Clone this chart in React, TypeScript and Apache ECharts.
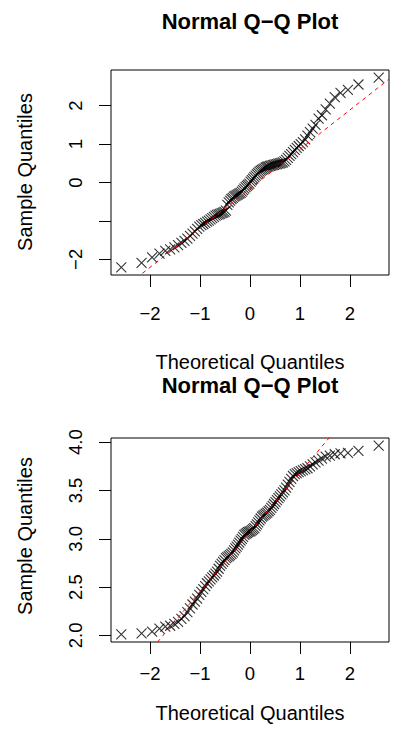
import React, { useEffect, useRef } from "react";
import * as echarts from "echarts";

// Theoretical normal quantiles for n = 100 (ppoints)
const theoretical = [
  -2.5758, -2.1701, -1.96, -1.8119, -1.6954, -1.5982, -1.5141, -1.4395, -1.3722, -1.3106,
  -1.2536, -1.2004, -1.1503, -1.1031, -1.0581, -1.0152, -0.9741, -0.9346, -0.8965, -0.8596,
  -0.8239, -0.7892, -0.7554, -0.7225, -0.6903, -0.6588, -0.628, -0.5978, -0.5681, -0.5388,
  -0.5101, -0.4817, -0.4538, -0.4261, -0.3989, -0.3719, -0.3451, -0.3186, -0.2924, -0.2663,
  -0.2404, -0.2147, -0.1891, -0.1637, -0.1383, -0.113, -0.0878, -0.0627, -0.0376, -0.0125,
  0.0125, 0.0376, 0.0627, 0.0878, 0.113, 0.1383, 0.1637, 0.1891, 0.2147, 0.2404,
  0.2663, 0.2924, 0.3186, 0.3451, 0.3719, 0.3989, 0.4261, 0.4538, 0.4817, 0.5101,
  0.5388, 0.5681, 0.5978, 0.628, 0.6588, 0.6903, 0.7225, 0.7554, 0.7892, 0.8239,
  0.8596, 0.8965, 0.9346, 0.9741, 1.0152, 1.0581, 1.1031, 1.1503, 1.2004, 1.2536,
  1.3106, 1.3722, 1.4395, 1.5141, 1.5982, 1.6954, 1.8119, 1.96, 2.1701, 2.5758,
];

// Sorted sample values, top panel
const sampleTop = [
  -2.21, -2.09, -1.95, -1.85, -1.78, -1.74, -1.69, -1.63, -1.57, -1.52,
  -1.46, -1.39, -1.33, -1.27, -1.21, -1.15, -1.11, -1.08, -1.05, -1.02,
  -0.99, -0.96, -0.93, -0.895, -0.865, -0.845, -0.83, -0.815, -0.8, -0.785,
  -0.765, -0.73, -0.58, -0.52, -0.47, -0.43, -0.4, -0.37, -0.35, -0.33,
  -0.31, -0.29, -0.27, -0.24, -0.2, -0.16, -0.12, -0.09, -0.06, -0.03,
  0.02, 0.06, 0.1, 0.14, 0.18, 0.22, 0.25, 0.28, 0.31, 0.33,
  0.35, 0.37, 0.39, 0.41, 0.42, 0.43, 0.44, 0.45, 0.46, 0.47,
  0.48, 0.49, 0.5, 0.51, 0.525, 0.55, 0.59, 0.64, 0.69, 0.74,
  0.79, 0.85, 0.9, 0.95, 1.0, 1.05, 1.12, 1.22, 1.31, 1.4,
  1.5, 1.66, 1.75, 1.9, 2.05, 2.22, 2.33, 2.41, 2.55, 2.73,
];

// Sorted sample values, bottom panel
const sampleBottom = [
  2.01, 2.02, 2.04, 2.07, 2.09, 2.1, 2.12, 2.14, 2.17, 2.2,
  2.24, 2.28, 2.32, 2.35, 2.38, 2.42, 2.45, 2.48, 2.51, 2.54,
  2.56, 2.58, 2.6, 2.62, 2.64, 2.66, 2.69, 2.72, 2.74, 2.76,
  2.78, 2.8, 2.81, 2.82, 2.83, 2.845, 2.86, 2.88, 2.9, 2.92,
  2.94, 2.96, 2.98, 3.0, 3.02, 3.04, 3.05, 3.06, 3.07, 3.075,
  3.08, 3.09, 3.1, 3.11, 3.13, 3.15, 3.17, 3.19, 3.21, 3.23,
  3.24, 3.25, 3.26, 3.27, 3.285, 3.3, 3.32, 3.34, 3.36, 3.38,
  3.4, 3.42, 3.44, 3.46, 3.48, 3.5, 3.53, 3.56, 3.59, 3.62,
  3.65, 3.67, 3.68, 3.69, 3.7, 3.71, 3.72, 3.73, 3.75, 3.77,
  3.79, 3.81, 3.83, 3.85, 3.86, 3.875, 3.885, 3.89, 3.91, 3.965,
];

const xTicks = [-2, -1, 0, 1, 2];
const yTopTicks = [-2, -1, 0, 1, 2];
const yTopLabels = [-2, 0, 1, 2];
const yBottomTicks = [2.0, 2.5, 3.0, 3.5, 4.0];

const TITLE = "Normal Q\u2212Q Plot";
const X_TITLE = "Theoretical Quantiles";
const Y_TITLE = "Sample Quantiles";

const FONT = '"Liberation Sans", Arial, Helvetica, sans-serif';
const CROSS = "path://M0,0L10,10M10,0L0,10";

function quantile7(arr: number[], p: number) {
  const s = [...arr].sort((a, b) => a - b);
  const h = (s.length - 1) * p;
  const lo = Math.floor(h);
  const hi = Math.min(lo + 1, s.length - 1);
  return s[lo] + (h - lo) * (s[hi] - s[lo]);
}

function extRange(arr: number[]): [number, number] {
  const mn = Math.min(...arr);
  const mx = Math.max(...arr);
  const d = (mx - mn) * 0.04;
  return [mn - d, mx + d];
}

function qqLine(sample: number[]) {
  const z = 0.6744898;
  const y1 = quantile7(sample, 0.25);
  const y2 = quantile7(sample, 0.75);
  const slope = (y2 - y1) / (2 * z);
  const intercept = y1 + slope * z;
  return { slope, intercept };
}

const minus = (v: number, digits: number) => {
  const s = Math.abs(v).toFixed(digits);
  return v < 0 ? "\u2212" + s : s;
};

export default function App() {
  const ref = useRef<HTMLDivElement>(null);

  useEffect(() => {
    document.body.style.margin = "0";
    if (!ref.current) return;
    const chart = echarts.init(ref.current, undefined, { renderer: "svg" });

    const xr = extRange(theoretical);
    const yrTop = extRange(sampleTop);
    const yrBottom = extRange(sampleBottom);
    const lTop = qqLine(sampleTop);
    const lBottom = qqLine(sampleBottom);

    const makeX = (gridIndex: number, margin: number) => ({
      type: "value",
      gridIndex,
      position: "bottom",
      min: xr[0],
      max: xr[1],
      axisLine: { show: false, onZero: false },
      splitLine: { show: false },
      axisTick: {
        show: true,
        inside: false,
        length: 12,
        customValues: xTicks,
        lineStyle: { color: "#000", width: 1 },
      },
      axisLabel: {
        customValues: xTicks,
        margin,
        color: "#000",
        fontSize: 18.5,
        fontFamily: FONT,
        formatter: (v: number) => minus(v, 0),
      },
    });

    const makeY = (
      gridIndex: number,
      range: [number, number],
      ticks: number[],
      labels: number[],
      digits: number
    ) => ({
      type: "value",
      gridIndex,
      position: "left",
      min: range[0],
      max: range[1],
      axisLine: { show: false, onZero: false },
      splitLine: { show: false },
      axisTick: {
        show: true,
        inside: false,
        length: 12,
        customValues: ticks,
        lineStyle: { color: "#000", width: 1 },
      },
      axisLabel: {
        customValues: labels,
        rotate: 90,
        margin: 26,
        color: "#000",
        fontSize: 18.5,
        fontFamily: FONT,
        formatter: (v: number) => minus(v, digits),
      },
    });

    const textEl = (
      text: string,
      x: number,
      y: number,
      size: number,
      bold = false,
      rotation = 0
    ) => ({
      type: "text",
      x,
      y,
      rotation,
      silent: true,
      style: {
        text,
        fill: "#000",
        fontSize: size,
        fontWeight: bold ? "bold" : "normal",
        fontFamily: FONT,
        textAlign: "center",
        textVerticalAlign: "middle",
        align: "center",
        verticalAlign: "middle",
      },
    });

    const option: any = {
      animation: false,
      backgroundColor: "#fff",
      grid: [
        {
          left: 111,
          top: 70,
          width: 278,
          height: 205,
          show: true,
          borderColor: "#000",
          borderWidth: 1,
          backgroundColor: "transparent",
        },
        {
          left: 111,
          top: 438,
          width: 278,
          height: 204,
          show: true,
          borderColor: "#000",
          borderWidth: 1,
          backgroundColor: "transparent",
        },
      ],
      xAxis: [makeX(0, 29), makeX(1, 22)],
      yAxis: [
        makeY(0, yrTop, yTopTicks, yTopLabels, 0),
        makeY(1, yrBottom, yBottomTicks, yBottomTicks, 1),
      ],
      graphic: [
        textEl(TITLE, 250, 21, 22, true),
        textEl(X_TITLE, 250, 362, 20),
        textEl(Y_TITLE, 25, 172, 20, false, Math.PI / 2),
        textEl(TITLE, 250, 385, 22, true),
        textEl(X_TITLE, 250, 713, 20),
        textEl(Y_TITLE, 25, 536, 20, false, Math.PI / 2),
      ],
      series: [
        {
          type: "scatter",
          xAxisIndex: 0,
          yAxisIndex: 0,
          symbol: CROSS,
          symbolSize: 10,
          itemStyle: { color: "transparent", borderColor: "#000", borderWidth: 1.1 },
          data: theoretical.map((x, i) => [x, sampleTop[i]]),
          z: 3,
        },
        {
          type: "line",
          xAxisIndex: 0,
          yAxisIndex: 0,
          clip: true,
          symbol: "none",
          lineStyle: { color: "#FF0000", width: 1, type: [4, 4] },
          data: [
            [xr[0], lTop.intercept + lTop.slope * xr[0]],
            [xr[1], lTop.intercept + lTop.slope * xr[1]],
          ],
          z: 4,
        },
        {
          type: "scatter",
          xAxisIndex: 1,
          yAxisIndex: 1,
          symbol: CROSS,
          symbolSize: 10,
          itemStyle: { color: "transparent", borderColor: "#000", borderWidth: 1.1 },
          data: theoretical.map((x, i) => [x, sampleBottom[i]]),
          z: 3,
        },
        {
          type: "line",
          xAxisIndex: 1,
          yAxisIndex: 1,
          clip: true,
          symbol: "none",
          lineStyle: { color: "#FF0000", width: 1, type: [4, 4] },
          data: [
            [xr[0], lBottom.intercept + lBottom.slope * xr[0]],
            [xr[1], lBottom.intercept + lBottom.slope * xr[1]],
          ],
          z: 4,
        },
      ],
    };

    chart.setOption(option);
    return () => chart.dispose();
  }, []);

  return <div ref={ref} style={{ width: 394, height: 741 }} />;
}
